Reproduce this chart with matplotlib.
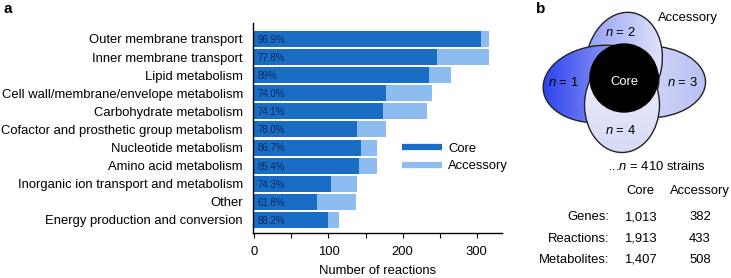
import numpy as np
import matplotlib
matplotlib.use("Agg")
import matplotlib.pyplot as plt
from matplotlib.patches import Ellipse, Circle
from matplotlib.lines import Line2D

plt.rcParams['font.family'] = ['Liberation Sans', 'DejaVu Sans']
plt.rcParams['mathtext.fontset'] = 'custom'
plt.rcParams['mathtext.it'] = 'Liberation Sans:italic'
plt.rcParams['mathtext.rm'] = 'Liberation Sans'

# panel a data
categories = ['Outer membrane transport', 'Inner membrane transport', 'Lipid metabolism',
              'Cell wall/membrane/envelope metabolism', 'Carbohydrate metabolism',
              'Cofactor and prosthetic group metabolism', 'Nucleotide metabolism',
              'Amino acid metabolism', 'Inorganic ion transport and metabolism',
              'Other', 'Energy production and conversion']
core = [306, 246, 236, 177, 173, 139, 144, 141, 103, 85, 100]
accessory = [10, 70, 29, 62, 60, 39, 22, 24, 35, 52, 14]
pct_labels = ['96.9%', '77.8%', '89%', '74.0%', '74.1%', '78.0%', '86.7%',
              '85.4%', '74.3%', '61.8%', '88.2%']

# panel b data
venn_labels = ['$n$ = 1', '$n$ = 2', '$n$ = 3', '$n$ = 4']
table_rows = ['Genes:', 'Reactions:', 'Metabolites:']
table_cols = ['Core', 'Accessory']
core_counts = ['1,013', '1,913', '1,407']
accessory_counts = ['382', '433', '508']
n_strains = 410

W, H = 731, 278
fs = 9.4
core_color = '#1a6dc5'
acc_color = '#8dbdf0'

fig = plt.figure(figsize=(W / 100, H / 100), dpi=100)

# ---- panel a ----
ax = fig.add_axes([252.5 / W, 1 - 233 / H, (502 - 252.5) / W, 210 / H])
y = np.arange(len(categories))
ax.barh(y, core, height=0.88, color=core_color, label='Core')
ax.barh(y, accessory, left=core, height=0.88, color=acc_color, label='Accessory')
for yi, t in zip(y, pct_labels):
    ax.text(4, yi + 0.05, t, fontsize=7, color='#0b2a5c', va='center', ha='left')
ax.set_yticks(y)
ax.set_yticklabels(categories, fontsize=fs)
ax.set_ylim(10.72, -0.88)
ax.set_xlim(-2.5, 334)
ax.set_xticks([0, 100, 200, 300])
ax.set_xticks([50, 150, 250], minor=True)
ax.tick_params(axis='x', which='both', length=3.5, width=0.8, labelsize=fs, pad=6)
ax.tick_params(axis='y', length=0, pad=7)
for s in ['top', 'right']:
    ax.spines[s].set_visible(False)
ax.spines['left'].set_linewidth(1.0)
ax.spines['bottom'].set_linewidth(1.0)
ax.set_xlabel('Number of reactions', fontsize=fs, labelpad=5)

handles = [Line2D([], [], color=core_color, lw=4.5, solid_capstyle='butt'),
           Line2D([], [], color=acc_color, lw=4.5, solid_capstyle='butt')]
fig.legend(handles, ['Core', 'Accessory'], loc='center left',
           bbox_to_anchor=(402 / W, 1 - 157.5 / H), frameon=False, fontsize=fs,
           handlelength=3.1, handletextpad=0.45, labelspacing=0.38,
           borderpad=0, borderaxespad=0)

fig.text(3 / W, 1 - 9 / H, 'a', fontsize=11, fontweight='bold', va='center', ha='left')
fig.text(536 / W, 1 - 9 / H, 'b', fontsize=11, fontweight='bold', va='center', ha='left')

# ---- panel b ----
x0 = 520
bx = fig.add_axes([x0 / W, 0, (W - x0) / W, 1])
bx.set_xlim(x0, W)
bx.set_ylim(H, 0)
bx.axis('off')


def grad_ellipse(cx, cy, w, h, ang, c_from, c_to, direction, z):
    e = Ellipse((cx, cy), w, h, angle=ang, facecolor='none', edgecolor='#222222',
                lw=1.0, zorder=z + 0.5)
    bx.add_patch(e)
    r = max(w, h) / 2 + 2
    n = 200
    t = np.linspace(0, 1, n)
    if direction == 'x':
        g = np.tile(t, (n, 1))
    else:
        g = np.tile(t[:, None], (1, n))
    c0 = np.array(matplotlib.colors.to_rgb(c_from))
    c1 = np.array(matplotlib.colors.to_rgb(c_to))
    img = c0[None, None, :] * (1 - g[..., None]) + c1[None, None, :] * g[..., None]
    im = bx.imshow(img, extent=(cx - r, cx + r, cy + r, cy - r), origin='upper',
                   zorder=z, interpolation='bilinear', aspect='auto')
    im.set_clip_path(e)


grad_ellipse(648, 82, 115, 72, 0, '#e4e7fb', '#b9c1f3', 'x', 1)
grad_ellipse(624, 62, 76, 100, 10, '#8592f1', '#eef0fc', 'x', 2)
grad_ellipse(601, 84, 116, 77, -6, '#2b40ee', '#d0d5f8', 'x', 3)
grad_ellipse(622, 105, 75, 95, 0, '#f4f5fd', '#d4d9f6', 'y', 4)
bx.add_patch(Circle((624, 78), 34, facecolor='black', edgecolor='black', zorder=6))

label_pos = [(563, 82), (620, 32), (682, 82), (620, 130)]
for (lx, ly), t in zip(label_pos, venn_labels):
    bx.text(lx, ly, t, fontsize=fs, ha='center', va='center', zorder=7)
bx.text(624, 82, 'Core', fontsize=fs, color='white', ha='center', va='center', zorder=7)
bx.text(658, 18, 'Accessory', fontsize=fs, ha='left', va='center', zorder=7)

bx.text(657, 166, '...$n$ = %d strains' % n_strains, fontsize=fs, ha='center', va='center')
col_x = [640, 700]
for cxp, t in zip(col_x, table_cols):
    bx.text(cxp, 191, t, fontsize=fs, ha='center', va='center')
for i, lab in enumerate(table_rows):
    ry = 217 + i * 21.5
    bx.text(609, ry, lab, fontsize=fs, ha='right', va='center')
    bx.text(col_x[0], ry, core_counts[i], fontsize=fs, ha='center', va='center')
    bx.text(col_x[1], ry, accessory_counts[i], fontsize=fs, ha='center', va='center')

fig.savefig('out.png', dpi=100)
